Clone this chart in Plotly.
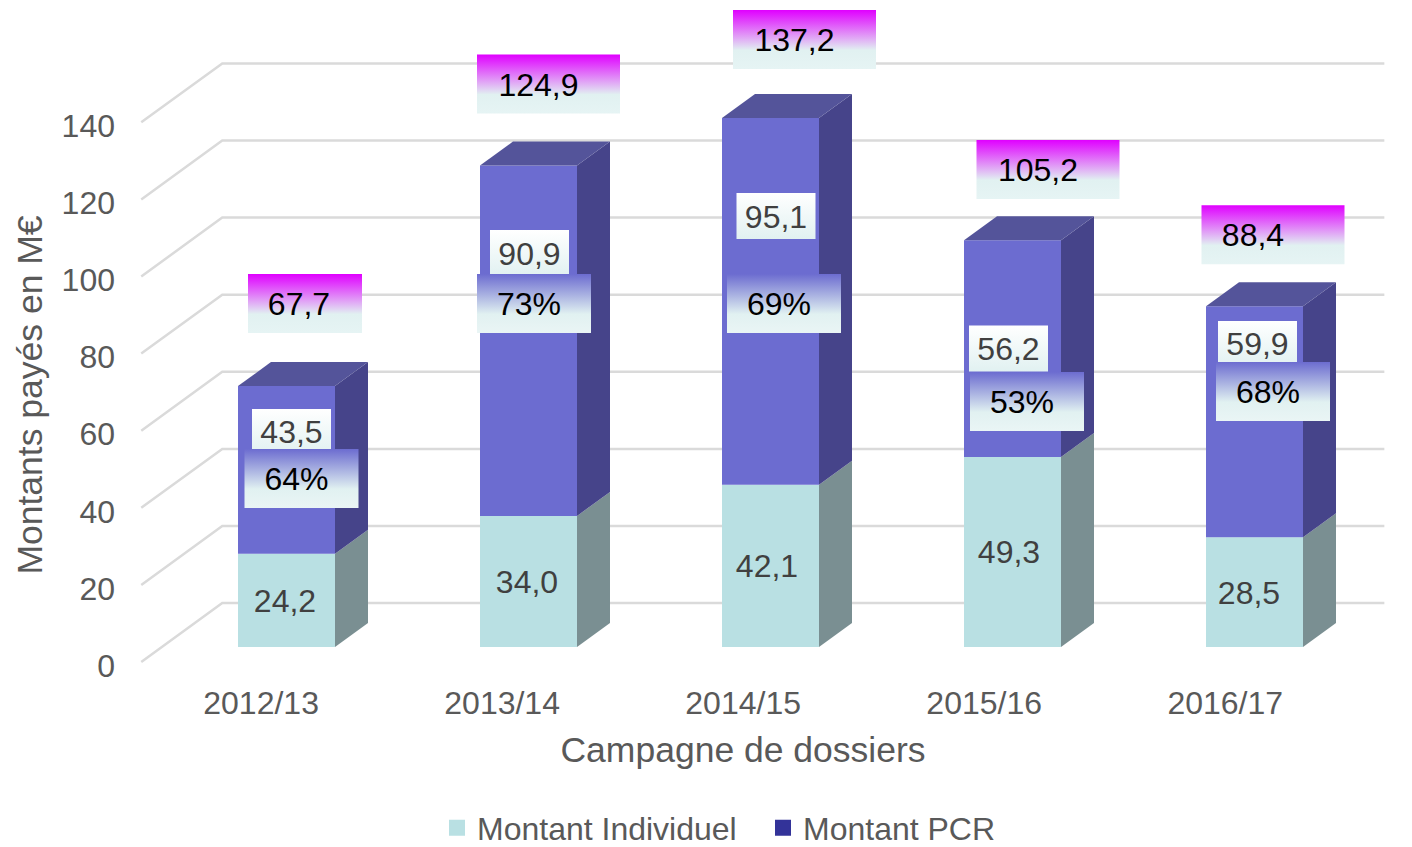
import plotly.graph_objects as go

# ---- data ----
campaigns = ["2012/13", "2013/14", "2014/15", "2015/16", "2016/17"]
individuel = [24.2, 34.0, 42.1, 49.3, 28.5]
pcr = [43.5, 90.9, 95.1, 56.2, 59.9]
totals = [67.7, 124.9, 137.2, 105.2, 88.4]
pcr_share = [64, 73, 69, 53, 68]
y_ticks = [0, 20, 40, 60, 80, 100, 120, 140]

# ---- label placement (pixel offsets from the bar they belong to) ----
total_dx = [18.5, 20, 34, 35.5, 18.5]
total_dy = [-82.5, -81.5, -78.5, -72, -71.5]
total_w = [114, 143, 143, 143, 143]
total_text_dx = [-6, -10, -10, -10, -20]
ind_text_dx = [-1.5, -1.5, -3.5, -3.5, -5.5]
val_dx = [5, 1, 5.5, -4, 3]
val_dy = [-37.9, -87.7, -85.4, 0, -77.7]
pct_dx = [15, 5.5, 13.5, 14.5, 18.5]
pct_dy = [8.6, -37.2, 2.1, 52.9, -30.2]
TEXT_DROP = 3.5   # px, optical centring of text in its box

# ---- scales & style ----
W, H = 1412, 880                    # canvas; the page shows the top 847 px
L, R, T, B = 92, 1394, 5, 785       # plot area in px
BAR0_PX, STEP_PX = 286.5, 242.0     # centre of first bar, category pitch
Y0_PX, PX_PER_UNIT = 647.0, 3.855   # value 0 on the bar plane
BAR_W = 97 / STEP_PX
DX, DY = 33 / STEP_PX, 24 / PX_PER_UNIT   # depth vector of a bar
WALL_FRONT, WALL_BACK = -0.625, 1.83
WALL_LEFT, WALL_RIGHT = -0.515, 4.287

FONT = "Liberation Sans, Arial, sans-serif"
GREY = "#595959"
INK = "#404040"
TEAL, TEAL_SIDE = "#B9E0E3", "#7A8F92"
PURPLE, PURPLE_TOP, PURPLE_SIDE = "#6C6CD0", "#54549A", "#46448A"
LEGEND_PCR = "#333399"
PALE = "#E1F1F1"


def fr(v):
    return f"{v:.1f}".replace(".", ",")


def ox(px):
    return px / STEP_PX


def oy(px):
    return -px / PX_PER_UNIT


fig = go.Figure()

# front faces
fig.add_bar(x=list(range(5)), y=individuel, width=BAR_W, marker=dict(color=TEAL, line=dict(width=0)),
            showlegend=False, hoverinfo="skip")
fig.add_bar(x=list(range(5)), y=pcr, base=individuel, width=BAR_W, marker=dict(color=PURPLE, line=dict(width=0)),
            showlegend=False, hoverinfo="skip")


def poly(xs, ys, color):
    fig.add_scatter(x=xs + xs[:1], y=ys + ys[:1], mode="lines", fill="toself", fillcolor=color,
                    line=dict(width=0, color=color), showlegend=False, hoverinfo="skip")


# side and top faces
for i in range(5):
    xr = i + BAR_W / 2
    xl = i - BAR_W / 2
    a = individuel[i]
    t = a + pcr[i]
    poly([xr, xr, xr + DX, xr + DX], [0, a, a + DY, DY], TEAL_SIDE)
    poly([xr, xr, xr + DX, xr + DX], [a, t, t + DY, a + DY], PURPLE_SIDE)
    poly([xl, xr, xr + DX, xl + DX], [t, t, t + DY, t + DY], PURPLE_TOP)


def label(cx, cy, w, h, stops, text, color, text_dx=0.0):
    """Gradient box centred on (cx, cy) in data units; w/h in px."""
    hw, hh = ox(w) / 2, h / PX_PER_UNIT / 2
    xs = [cx - hw, cx + hw, cx + hw, cx - hw, cx - hw]
    ys = [cy - hh, cy - hh, cy + hh, cy + hh, cy - hh]
    fig.add_scatter(x=xs, y=ys, mode="lines", line=dict(width=0), fill="toself",
                    fillgradient=dict(type="vertical", colorscale=stops, start=cy + hh, stop=cy - hh),
                    showlegend=False, hoverinfo="skip")
    fig.add_scatter(x=[cx + ox(text_dx)], y=[cy + oy(TEXT_DROP)], mode="text", text=[text],
                    textposition="middle center",
                    textfont=dict(family=FONT, size=32, color=color), showlegend=False, hoverinfo="skip")


TOTAL_STOPS = [[0, "#E000FF"], [0.68, PALE], [1, "#E6F4F4"]]
PCT_STOPS = [[0, PURPLE], [0.68, PALE], [1, "#EAF5F5"]]
VAL_STOPS = [[0, "#FFFFFF"], [1, PALE]]

# individual values
fig.add_scatter(x=[i + ox(ind_text_dx[i]) for i in range(5)], y=[v / 2 + oy(TEXT_DROP) for v in individuel],
                mode="text", text=[fr(v) for v in individuel], textposition="middle center",
                textfont=dict(family=FONT, size=32, color=INK), showlegend=False, hoverinfo="skip")

for i in range(5):
    mid = individuel[i] + pcr[i] / 2
    label(i + ox(val_dx[i]), mid + oy(val_dy[i]), 79, 46, VAL_STOPS, fr(pcr[i]), INK)
for i in range(5):
    mid = individuel[i] + pcr[i] / 2
    label(i + ox(pct_dx[i]), mid + oy(pct_dy[i]), 114, 59, PCT_STOPS, f"{pcr_share[i]}%", "#000000", -5)
for i in range(5):
    label(i + ox(total_dx[i]), totals[i] + oy(total_dy[i]), total_w[i], 59, TOTAL_STOPS, fr(totals[i]),
          "#000000", total_text_dx[i])

# legend
fig.add_scatter(x=[None], y=[None], mode="markers", name="Montant Individuel",
                marker=dict(symbol="square", size=17, color=TEAL))
fig.add_scatter(x=[None], y=[None], mode="markers", name="Montant PCR",
                marker=dict(symbol="square", size=17, color=LEGEND_PCR))

# wall gridlines
shapes = []
for v in y_ticks:
    x0, y0 = WALL_LEFT + WALL_FRONT * DX, v + WALL_FRONT * DY
    x1, y1 = WALL_LEFT + WALL_BACK * DX, v + WALL_BACK * DY
    x2 = WALL_RIGHT + WALL_BACK * DX
    shapes.append(dict(type="path", xref="x", yref="y", layer="below",
                       path=f"M {x0} {y0} L {x1} {y1} L {x2} {y1}",
                       line=dict(color="#DADADA", width=2.5)))

fig.update_layout(
    width=W, height=H, autosize=False,
    margin=dict(l=L, r=W - R, t=T, b=H - B, pad=0),
    paper_bgcolor="white", plot_bgcolor="rgba(0,0,0,0)",
    barmode="overlay", shapes=shapes,
    font=dict(family=FONT, size=32, color=GREY),
    xaxis=dict(
        range=[(L - BAR0_PX) / STEP_PX, (R - BAR0_PX) / STEP_PX],
        tickmode="array",
        tickvals=[i * 0.996 - 0.105 for i in range(5)],
        ticktext=campaigns,
        showgrid=False, zeroline=False, showline=False, ticks="",
        tickfont=dict(family=FONT, size=32, color=GREY),
        ticklabelstandoff=-104,
        title=dict(text="Campagne de dossiers", standoff=17,
                   font=dict(family=FONT, size=35.5, color=GREY)),
    ),
    yaxis=dict(
        range=[(Y0_PX - B) / PX_PER_UNIT, (Y0_PX - T) / PX_PER_UNIT],
        tickmode="array",
        tickvals=[v + WALL_FRONT * DY + oy(TEXT_DROP) for v in y_ticks],
        ticktext=[str(v) for v in y_ticks],
        showgrid=False, zeroline=False, showline=False, ticks="",
        tickfont=dict(family=FONT, size=32, color=GREY),
        ticklabelstandoff=-24,
        title=dict(text="Montants payés en M€", standoff=8,
                   font=dict(family=FONT, size=35.5, color=GREY)),
    ),
    legend=dict(orientation="h", xanchor="left", yanchor="middle",
                x=(437 - L) / (R - L), y=(B - 828) / (B - T),
                entrywidth=281, entrywidthmode="pixels",
                font=dict(family=FONT, size=32, color=GREY),
                bgcolor="rgba(0,0,0,0)", tracegroupgap=0),
)

fig.write_html(
    "out.html",
    config={"displayModeBar": False},
    post_script="document.body.style.margin='0';document.body.style.overflow='hidden';"
                "document.documentElement.style.overflow='hidden';",
)
